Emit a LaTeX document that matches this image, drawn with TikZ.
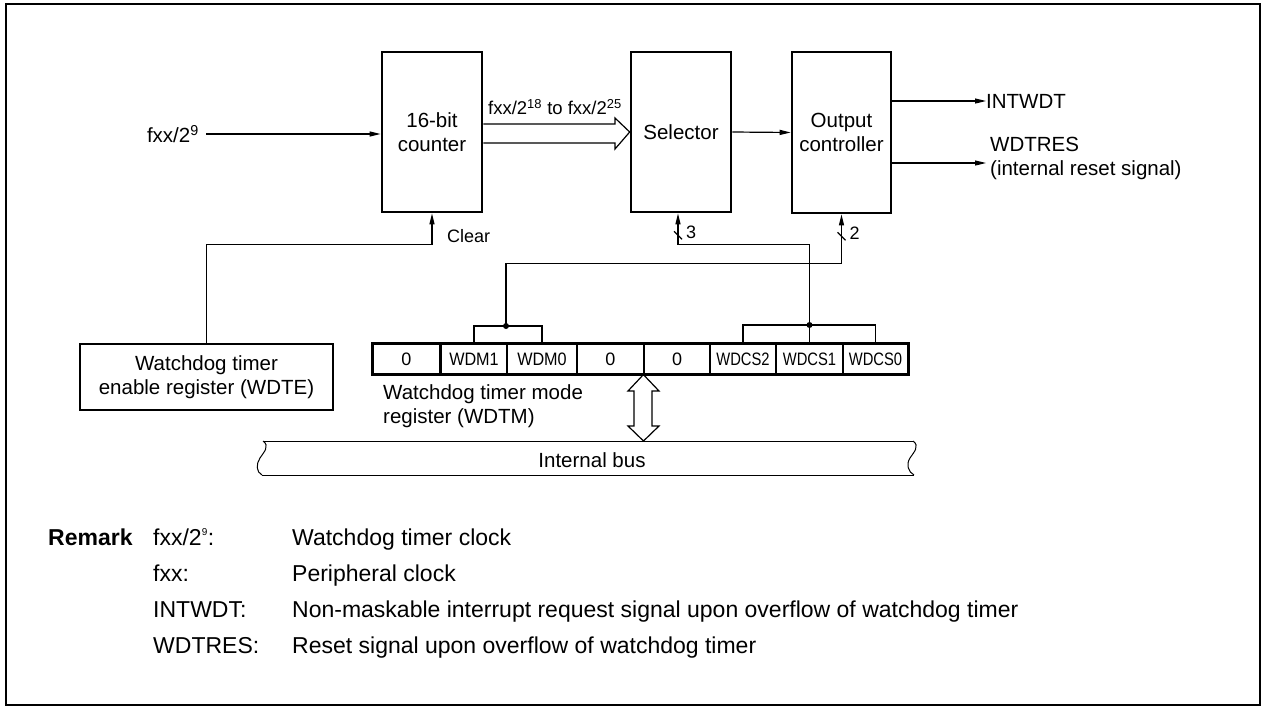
\documentclass[tikz,border=0pt]{standalone}
\usepackage{fontspec}
\setmainfont{Liberation Sans}
\usetikzlibrary{arrows.meta,calc}
\begin{document}
\begin{tikzpicture}[x=1pt,y=-1pt,
  font=\fontsize{20.5}{24}\selectfont,
  blk/.style={draw,line width=2.6pt,minimum width=#1,inner sep=0pt,align=center},
  thin/.style={line width=1.2pt},
  arr/.style={thin,-{Triangle[length=11pt,width=5pt]}},
  cell/.style={draw,line width=1.2pt,minimum height=30pt,inner sep=0pt,font=\fontsize{18}{20}\selectfont},
  lbl/.style={inner sep=0pt,anchor=west},
  rem/.style={inner sep=0pt,anchor=base west,font=\fontsize{23}{27}\selectfont},
  small/.style={inner sep=0pt,anchor=west,font=\fontsize{18}{21}\selectfont},
  dot/.style={circle,fill,inner sep=0pt,minimum size=6pt}
]
\useasboundingbox (0,0) rectangle (1262,707);
\draw[line width=2.6pt] (6,4) rectangle (1260,705);

% main blocks
\node[blk=100pt,minimum height=160pt] (counter) at (432,132) {16-bit\\counter};
\node[blk=100pt,minimum height=160pt] (sel) at (681,132) {Selector};
\node[blk=99pt,minimum height=161pt] (outc) at (841.5,132.5) {Output\\controller};
\node[blk=253pt,minimum height=66pt] (wdte) at (206.5,377) {Watchdog timer\\enable register (WDTE)};

% input
\node[lbl,anchor=east] (fin) at (199,134) {fxx/2\textsuperscript{9}};
\draw[arr] ([xshift=7pt]fin.east) -- (fin.east -| counter.west);

% hollow bus arrow counter -> selector
\draw[thin,line join=miter] (counter.east |- 0,124) -- (615,124) -- (615,118) -- (sel.west) -- (615,149) -- (615,143) -- (counter.east |- 0,143);
\node[inner sep=0pt,font=\fontsize{18.5}{22}\selectfont] (flab) at (555,107) {fxx/2\textsuperscript{18} to fxx/2\textsuperscript{25}};

% selector -> output controller
\draw[arr] (sel.east) -- (outc.west);

% outputs
\node[lbl] (intwdt) at (986,101) {INTWDT};
\draw[arr] (intwdt.west -| outc.east) -- (intwdt.west);
\coordinate (wr) at (986,163);
\node[lbl,anchor=north west,align=left] (wdtres) at (990,137) {WDTRES\\(internal reset signal)};
\draw[arr] (wr -| outc.east) -- (wr);

% register
\node[cell,minimum width=67pt] (c1) at (406.5,359) {0};
\node[cell,minimum width=66pt] (c2) at (474,359) {\scalebox{0.9}[1]{WDM1}};
\node[cell,minimum width=70pt] (c3) at (542,359) {\scalebox{0.9}[1]{WDM0}};
\node[cell,minimum width=67pt] (c4) at (610.5,359) {0};
\node[cell,minimum width=66pt] (c5) at (677,359) {0};
\node[cell,minimum width=66pt] (c6) at (743,359) {\scalebox{0.82}[1]{WDCS2}};
\node[cell,minimum width=67pt] (c7) at (809.5,359) {\scalebox{0.82}[1]{WDCS1}};
\node[cell,minimum width=65pt] (c8) at (875.5,359) {\scalebox{0.82}[1]{WDCS0}};
\draw[line width=2.6pt] (c1.north west) rectangle (c8.south east);
\node[lbl,anchor=north west,align=left] (wdtm) at (383,384) {Watchdog timer mode\\register (WDTM)};

% brackets and dots
\node[dot] (dmd) at (506,326) {};
\node[dot] (dcd) at (c7.north |- 0,325) {};
\draw[thin] (c2.north) |- (dmd.center) -| (c3.north);
\draw[thin] (c6.north) |- (dcd.center) -| (c8.north);
\draw[thin] (dcd.center) -- (c7.north);

% Clear
\draw[arr] (wdte.north) |- ($(counter.south)+(0,31)$) -- (counter.south);
\node[small] (clr) at (447,236) {Clear};

% 3 bits to selector
\coordinate (s3) at ($(sel.south)+(-3,0)$);
\draw[arr] (dcd.center) |- ($(s3)+(0,31)$) -- (s3);
\draw[thin] ($(s3)+(-4,-4)+(0,22)$) -- ($(s3)+(4,4)+(0,22)$);
\node[small] (n3) at ($(s3)+(8,19)$) {3};

% 2 bits to output controller
\draw[arr] (dmd.center) |- ($(outc.south)+(0,49)$) -- (outc.south);
\draw[thin] ($(outc.south)+(-4,-4)+(0,22)$) -- ($(outc.south)+(4,4)+(0,22)$);
\node[small] (n2) at ($(outc.south)+(8,19)$) {2};

% double arrow register <-> bus
\draw[thin,line join=miter] (c5.south west) -- (628,391) -- (634,391) -- (634,426) -- (628,426) -- (643.5,441) -- (659,426) -- (652,426) -- (652,391) -- (659,391) -- cycle;

% internal bus
\draw[line width=1pt] (263,441) -- (913,441);
\draw[line width=1pt] (262,475) -- (914,475);
\draw[line width=1pt] (263,441) .. controls (270,446) and (264,452) .. (260,458) .. controls (256,464) and (256,472) .. (262,475);
\draw[line width=1pt] (913,441) .. controls (920,446) and (914,452) .. (910,458) .. controls (906,464) and (908,472) .. (914,475);
\node[inner sep=0pt] (bus) at (592,460) {Internal bus};

% remarks
\node[rem,font=\fontsize{23}{27}\selectfont\bfseries] (rem) at (48,545) {Remark};
\node[rem] (r1a) at (153,545) {fxx/2\textsuperscript{\fontsize{10}{10}\selectfont 9}:};
\node[rem] (r1b) at (292,545) {Watchdog timer clock};
\node[rem] (r2a) at (153,581) {fxx:};
\node[rem] (r2b) at (292,581) {Peripheral clock};
\node[rem] (r3a) at (153,617) {INTWDT:};
\node[rem] (r3b) at (292,617) {Non-maskable interrupt request signal upon overflow of watchdog timer};
\node[rem] (r4a) at (153,653) {WDTRES:};
\node[rem] (r4b) at (292,653) {Reset signal upon overflow of watchdog timer};
\end{tikzpicture}
\end{document}
